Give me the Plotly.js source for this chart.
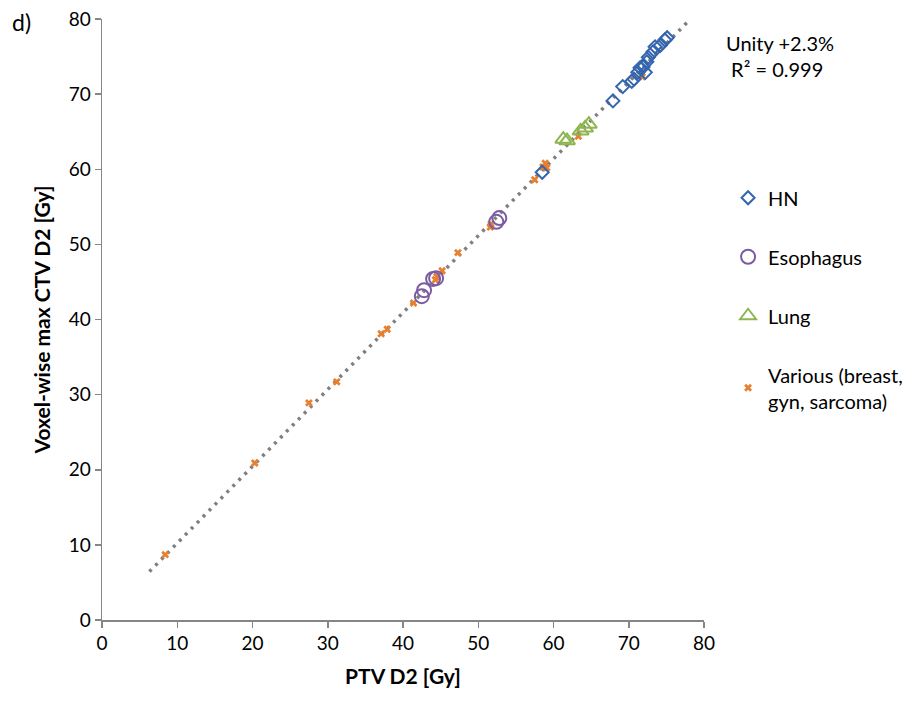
<!DOCTYPE html>
<html><head><meta charset="utf-8">
<script src="https://cdn.plot.ly/plotly-3.0.1.min.js"></script>
<style>html,body{margin:0;padding:0;background:#fff}#chart{width:921px;height:701px}</style>
</head><body><div id="chart"></div>
<script>
// HN
const hnX = [58.5, 67.9, 69.2, 70.4, 70.7, 71.2, 71.5, 71.9, 72.2, 72.4, 72.6, 73.2, 73.5, 74.2, 74.8, 75.1];
const hnY = [59.6, 69.1, 71.0, 71.7, 72.0, 72.9, 73.5, 73.6, 72.9, 74.3, 74.9, 75.6, 76.3, 76.5, 77.2, 77.5];
// Esophagus
const esoX = [42.5, 42.8, 44.0, 44.4, 52.4, 52.8];
const esoY = [43.1, 43.9, 45.4, 45.5, 53.0, 53.5];
// Lung
const lungX = [61.3, 61.8, 63.6, 64.2, 64.7];
const lungY = [64.0, 63.8, 65.1, 65.5, 66.0];
// Various
const varX = [8.4, 20.3, 27.5, 31.2, 37.1, 37.9, 41.4, 44.3, 44.5, 45.2, 47.3, 51.6, 51.7, 57.5, 58.6, 58.9, 59.1, 63.3, 71.8];
const varY = [8.7, 20.9, 28.9, 31.7, 38.1, 38.7, 42.2, 45.3, 45.7, 46.5, 48.9, 52.3, 52.7, 58.6, 60.3, 60.8, 60.2, 64.4, 72.3];
// Unity +2.3% fit line
const fitSlope = 1.023;
const fitX = [6.3, 78.2];
const fitY = fitX.map(v => v * fitSlope);

const font = 'Lato, "Open Sans", sans-serif';
const traces = [
  {x: fitX, y: fitY, mode: 'lines', line: {color: '#7f7f7f', width: 3.5, dash: '3px,5.5px'}, showlegend: false, hoverinfo: 'skip'},
  {x: varX, y: varY, mode: 'markers', name: 'Various (breast,<br>gyn, sarcoma)', legendgroup: 'd', legendrank: 4,
   marker: {symbol: 'x', size: 7, color: '#E8802F'}},
  {x: lungX, y: lungY, mode: 'markers', name: 'Lung', legendgroup: 'c', legendrank: 3,
   marker: {symbol: 'triangle-up-open', size: 14, color: '#8DB650', line: {width: 2}}},
  {x: esoX, y: esoY, mode: 'markers', name: 'Esophagus', legendgroup: 'b', legendrank: 2,
   marker: {symbol: 'circle-open', size: 14, color: '#7A5BA4', line: {width: 2}}},
  {x: hnX, y: hnY, mode: 'markers', name: 'HN', legendgroup: 'a', legendrank: 1,
   marker: {symbol: 'diamond-open', size: 10, color: '#3465AE', line: {width: 2}}}
];
const axisCommon = {
  range: [0, 80], dtick: 10, showgrid: false, zeroline: false,
  showline: true, linecolor: '#868686', linewidth: 1.5,
  ticks: 'outside', ticklen: 6, tickcolor: '#868686', tickwidth: 1.5,
  tickfont: {family: font, size: 19, color: '#000'}, fixedrange: true
};
const layout = {
  width: 921, height: 701,
  margin: {l: 102, r: 217, t: 19, b: 81},
  paper_bgcolor: '#fff', plot_bgcolor: '#fff',
  font: {family: font, color: '#000'},
  xaxis: Object.assign({}, axisCommon, {title: {text: '<b>PTV D2 [Gy]</b>', font: {family: font, size: 21}, standoff: 16}}),
  yaxis: Object.assign({}, axisCommon, {title: {text: '<b>Voxel-wise max CTV D2 [Gy]</b>', font: {family: font, size: 21}, standoff: 12}}),
  showlegend: true,
  legend: {x: 1.04, y: 0.735, xanchor: 'left', yanchor: 'top', traceorder: 'grouped', tracegroupgap: 30,
    font: {family: font, size: 20}, bgcolor: 'rgba(0,0,0,0)', itemwidth: 30},
  annotations: [
    {text: 'd)', xref: 'paper', yref: 'paper', x: -0.152, y: 0.995, xanchor: 'left', yanchor: 'middle', showarrow: false, font: {family: font, size: 23}},
    {text: 'Unity +2.3%<br> R² = 0.999', xref: 'paper', yref: 'paper', x: 1.033, y: 0.983, xanchor: 'left', yanchor: 'top', align: 'left', showarrow: false, font: {family: font, size: 20}}
  ]
};
Plotly.newPlot('chart', traces, layout, {staticPlot: true});
</script></body></html>
